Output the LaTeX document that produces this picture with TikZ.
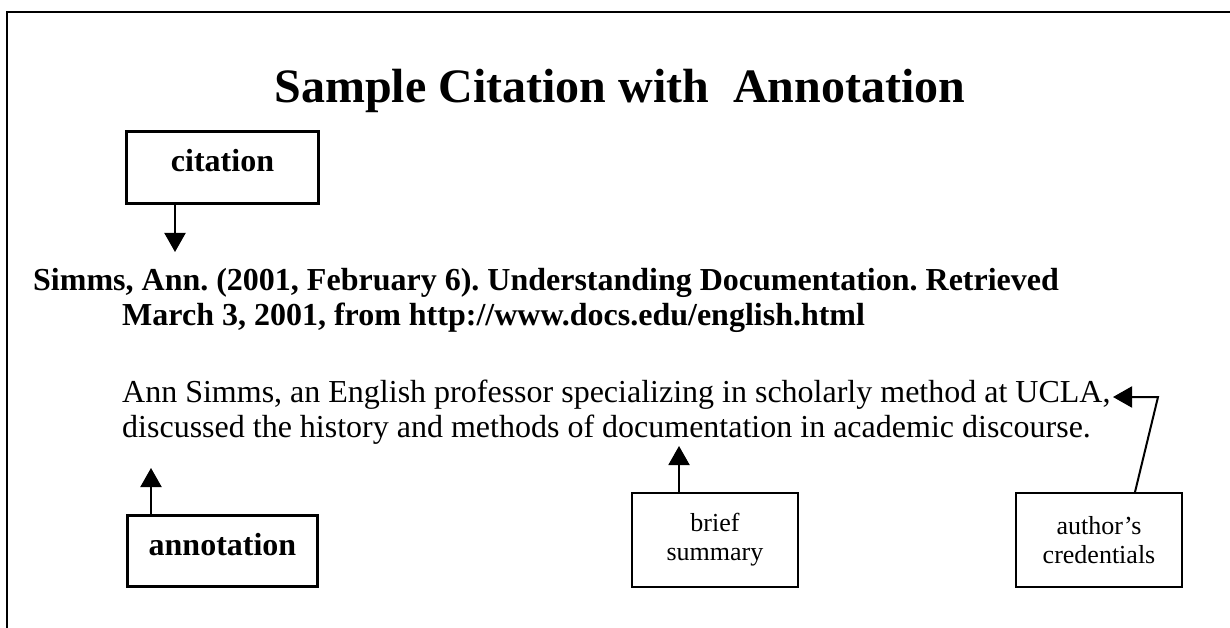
\documentclass[tikz,border=0pt]{standalone}
\usepackage{fontspec}
\setmainfont{Liberation Serif}
\usetikzlibrary{arrows.meta}
\frenchspacing
\begin{document}
\begin{tikzpicture}[x=1pt,y=-1pt,
  heavybox/.style={draw,line width=3.3pt,inner sep=0pt,
    text height=22pt,text depth=13pt,
    font=\fontsize{32}{35}\selectfont\bfseries},
  lightbox/.style={draw,line width=2pt,inner sep=0pt,align=center,
    minimum width=166pt,minimum height=94pt,
    font=\fontsize{26}{29}\selectfont},
  pointer/.style={line width=2pt,-{Triangle[width=21pt,length=19pt]}},
  bodyline/.style={anchor=base west,inner sep=0pt,font=\fontsize{32}{35}\selectfont},
  refline/.style={anchor=base west,inner sep=0pt,font=\fontsize{32}{35}\selectfont\bfseries}]
\useasboundingbox (0,0) rectangle (1230,628);
\fill[white] (0,0) rectangle (1230,628);

% open frame: top and left edges only
\draw[line width=2.3pt] (7,628) -- (7,12) -- (1230,12);

% heading
\node[anchor=base,inner sep=0pt,font=\fontsize{48}{52}\selectfont\bfseries]
  (title) at (620,103) {Sample Citation with~ Annotation};

% reference entry
\node[refline] (ref1) at (33,290)
  {Simms, Ann. (2001, February 6). Understanding Documentation. Retrieved};
\node[refline] (ref2) at (122,325)
  {March 3, 2001, from http://www.docs.edu/english.html};

% annotation paragraph
\node[bodyline] (ann1) at (122,402)
  {Ann Simms, an English professor specializing in scholarly method at UCLA,};
\node[bodyline] (ann2) at (122,437)
  {discussed the history and methods of documentation in academic discourse.};

% labels
\node[heavybox,minimum width=192pt,minimum height=72pt] (cit) at (222.5,167.5) {citation};
\node[heavybox,minimum width=190pt,minimum height=71pt] (annbox) at (222.5,551) {annotation};
\node[lightbox] (brief) at (715,540) {brief\\summary};
\node[lightbox] (cred) at (1099,540) {author’s\\credentials};

% pointers
\coordinate (citTip) at (175,252);
\coordinate (annTip) at (151,468);
\coordinate (briefTip) at (679,446);
\coordinate (ucla) at (1113,397);
\coordinate (bend) at (1158,397);

\draw[pointer] (cit.south -| citTip) -- (citTip);
\draw[pointer] (annbox.north -| annTip) -- (annTip);
\draw[pointer] (brief.north -| briefTip) -- (briefTip);
\draw[pointer] ([xshift=36pt]cred.north) -- (bend) -- (ucla);
\end{tikzpicture}
\end{document}
